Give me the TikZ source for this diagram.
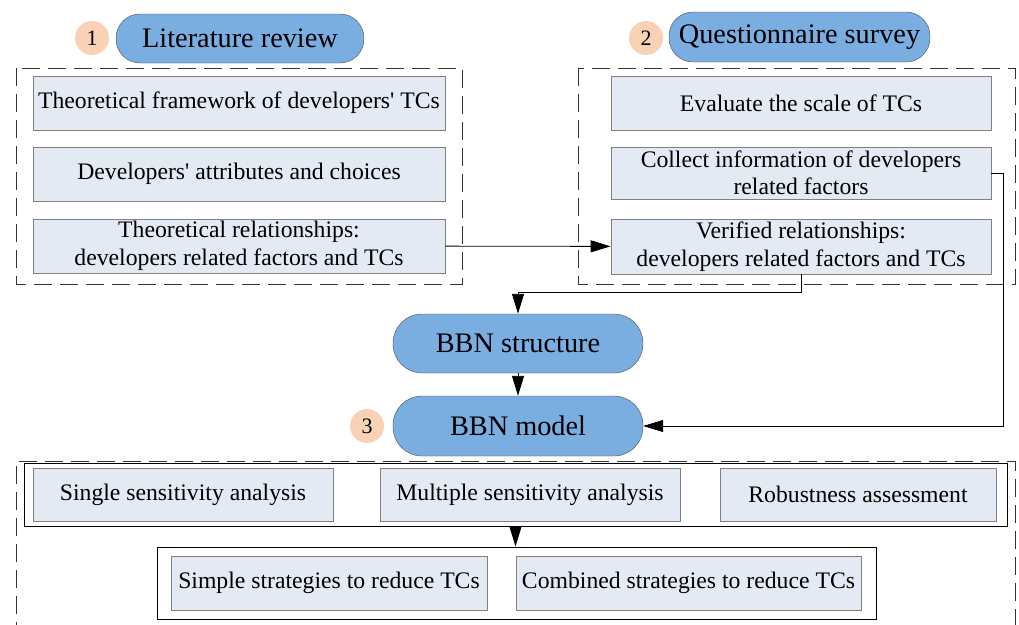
\documentclass[tikz,border=0pt]{standalone}
\usepackage{fontspec}
\setmainfont{Liberation Serif}
\usetikzlibrary{arrows.meta}

\definecolor{pillblue}{HTML}{7BAEE0}
\definecolor{boxfill}{HTML}{E4EAF4}
\definecolor{peach}{HTML}{F9D2B6}

\tikzstyle{arrow} = [line width=0.9pt,-{Triangle[length=20pt,width=12pt]}]
\tikzstyle{pill} = [
        rectangle,
        rounded corners=24pt,
        inner sep=0pt,
        minimum width=250pt,
        minimum height=59pt,
        text centered,
        fill=pillblue,
        draw=black!70,
        font=\fontsize{28.3}{32}\selectfont,
    ]
\tikzstyle{infobox} = [
        rectangle,
        inner sep=0pt,
        minimum height=54pt,
        text centered,
        align=center,
        fill=boxfill,
        draw=black!50,
        line width=0.8pt,
        font=\fontsize{23.7}{27.5}\selectfont,
    ]
\tikzstyle{numcircle} = [
        circle,
        inner sep=0pt,
        minimum size=34pt,
        fill=peach,
        font=\fontsize{22}{26}\selectfont,
    ]
\tikzstyle{dashframe} = [draw=black!80, line width=0.9pt, dash pattern=on 18pt off 8pt]
\tikzstyle{solidframe} = [rectangle, inner sep=0pt, draw=black, line width=1pt]

\begin{document}
\begin{tikzpicture}[x=1pt,y=-1pt]
            \useasboundingbox (0,0) rectangle (1019,624);
            % frames
            \draw [dashframe] (16,68) rectangle (462,284);
            \draw [dashframe] (578,68) rectangle (1015,284);
            \draw [dashframe] (16,640) -- (16,461) -- (1015,461) -- (1015,640);
            % step 1
            \node [numcircle] (one) at (92,38) {1};
            \node [pill, minimum width=248pt, minimum height=49pt] (litreview) at (240,38.5) {Literature review};
            \node [infobox, minimum width=412pt] (framework) at (239,103) {Theoretical framework of developers\textquotesingle{} TCs};
            \node [infobox, minimum width=412pt] (attributes) at (239,174) {Developers\textquotesingle{} attributes and choices};
            \node [infobox, minimum width=412pt] (theorel) at (239,246) {Theoretical relationships:\\developers related factors and TCs};
            % step 2
            \node [numcircle] (two) at (646,38) {2};
            \node [pill, minimum width=261pt, minimum height=50pt] (survey) at (799.5,37) {Questionnaire survey};
            \node [infobox, minimum width=380pt] (scale) at (801,103) {Evaluate the scale of TCs};
            \node [infobox, minimum width=380pt, minimum height=52pt] (collect) at (801,173) {Collect information of developers\\related factors};
            \node [infobox, minimum width=380pt, minimum height=55pt] (verrel) at (801,246.5) {Verified relationships:\\developers related factors and TCs};
            % step 3
            \node [pill, rounded corners=29pt] (bbnstruct) at (518,343.5) {BBN structure};
            \node [pill, rounded corners=29pt, minimum height=60pt] (bbnmodel) at (518,426) {BBN model};
            \node [numcircle] (three) at (367,426) {3};
            \node [solidframe, minimum width=983pt, minimum height=63pt] (anaframe) at (515.5,494.5) {};
            \node [infobox, minimum width=300pt, minimum height=53pt] (single) at (183,494.5) {Single sensitivity analysis};
            \node [infobox, minimum width=300pt, minimum height=53pt] (multiple) at (530,494.5) {Multiple sensitivity analysis};
            \node [infobox, minimum width=276pt, minimum height=53pt] (robust) at (858,494.5) {Robustness assessment};
            \node [solidframe, minimum width=719pt, minimum height=72pt] (stratframe) at (516.5,583) {};
            \node [infobox, minimum width=316pt] (simple) at (329,583) {Simple strategies to reduce TCs};
            \node [infobox, minimum width=345pt] (combined) at (688.5,583) {Combined strategies to reduce TCs};
            % connectors
            \draw [arrow] (theorel) -- (verrel);
            \draw [arrow] (verrel.south) -- ++(0,18) -| (bbnstruct.north);
            \draw [arrow] (bbnstruct) -- (bbnmodel);
            \draw [arrow] (collect.east) -- ++(12,0) |- (bbnmodel.east);
            \draw [arrow] (anaframe.south) -- (anaframe.south |- stratframe.north);
        \end{tikzpicture}
\end{document}
